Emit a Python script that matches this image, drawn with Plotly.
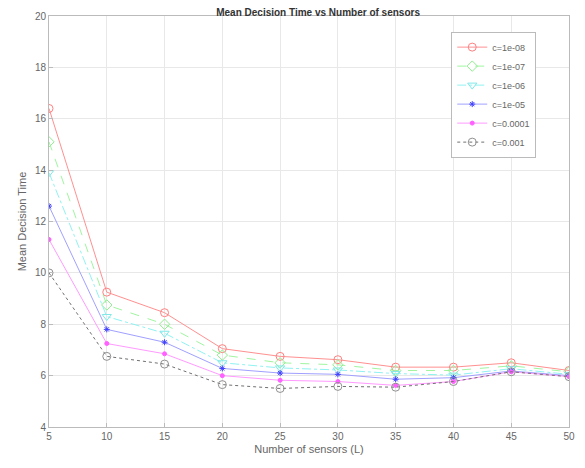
import plotly.graph_objects as go

sensors = [5, 10, 15, 20, 25, 30, 35, 40, 45, 50]
labels = ["c=1e-08", "c=1e-07", "c=1e-06", "c=1e-05", "c=0.0001", "c=0.001"]
s_1e08 = [16.4, 9.25, 8.45, 7.05, 6.75, 6.62, 6.33, 6.33, 6.5, 6.2]
s_1e07 = [15.1, 8.75, 8.0, 6.8, 6.5, 6.42, 6.2, 6.2, 6.38, 6.15]
s_1e06 = [13.9, 8.3, 7.65, 6.5, 6.3, 6.22, 6.08, 6.02, 6.27, 6.05]
s_1e05 = [12.6, 7.8, 7.3, 6.28, 6.1, 6.05, 5.86, 5.92, 6.18, 6.0]
s_1e04 = [11.3, 7.25, 6.85, 6.0, 5.82, 5.77, 5.62, 5.77, 6.15, 5.96]
s_1e03 = [10.0, 6.75, 6.45, 5.65, 5.5, 5.58, 5.55, 5.77, 6.15, 5.96]
series = [s_1e08, s_1e07, s_1e06, s_1e05, s_1e04, s_1e03]

colors = ["#ff9090", "#a0f5a0", "#90f2f2", "#a0a0ff", "#ff9aff", "#707070"]
mcolors = ["#ff8080", "#90ee90", "#80e8e8", "#4040ff", "#ff60ff", "#909090"]
symbols = ["circle-open", "diamond-open", "triangle-down-open", "asterisk-open", "circle", "circle-open"]
msizes = [8, 8, 8, 5, 4, 8]
dashes = ["solid", "dash", "dashdot", "solid", "solid", "dot"]

fig = go.Figure()
for lab, ys, c, mc, sym, ms, d in zip(labels, series, colors, mcolors, symbols, msizes, dashes):
    fig.add_trace(go.Scatter(
        x=sensors, y=ys, name=lab, mode="lines+markers",
        line=dict(color=c, width=1, dash=d),
        marker=dict(symbol=sym, size=ms, color=mc, line=dict(color=mc, width=1)),
    ))

# page body has an 8px margin, so the figure is sized to fit inside the 585x468 window
fig.update_layout(
    width=569, height=452,
    margin=dict(l=41, r=8, t=8, b=33, autoexpand=False),
    paper_bgcolor="white", plot_bgcolor="white",
    font=dict(family="Liberation Sans, Arial, sans-serif", size=10, color="#666666"),
    title=dict(text="<b>Mean Decision Time vs Number of sensors</b>", x=0.545, xanchor="center",
               y=0.998, yanchor="top", font=dict(size=10, color="#333333")),
    showlegend=True,
    legend=dict(x=0.937, xanchor="right", y=0.962, yanchor="top",
                bordercolor="#bbbbbb", borderwidth=1, bgcolor="white",
                font=dict(size=9, color="#666666"), itemwidth=30,
                tracegroupgap=0),
)
fig.update_xaxes(range=[5, 50], tickmode="array", tickvals=sensors, ticks="inside", ticklen=4,
                 tickcolor="#bbbbbb", showgrid=True, gridcolor="#e8e8e8", zeroline=False,
                 showline=True, linecolor="#bbbbbb", mirror=True, automargin=False,
                 title=dict(text="Number of sensors (L)", standoff=4, font=dict(size=11, color="#666666")))
fig.update_yaxes(range=[4, 20], tickmode="array", tickvals=[4, 6, 8, 10, 12, 14, 16, 18, 20],
                 ticks="inside", ticklen=4, tickcolor="#bbbbbb",
                 showgrid=True, gridcolor="#e8e8e8", zeroline=False,
                 showline=True, linecolor="#bbbbbb", mirror=True, automargin=False,
                 title=dict(text="Mean Decision Time", standoff=6, font=dict(size=11, color="#666666")))

fig.write_html("out.html")
